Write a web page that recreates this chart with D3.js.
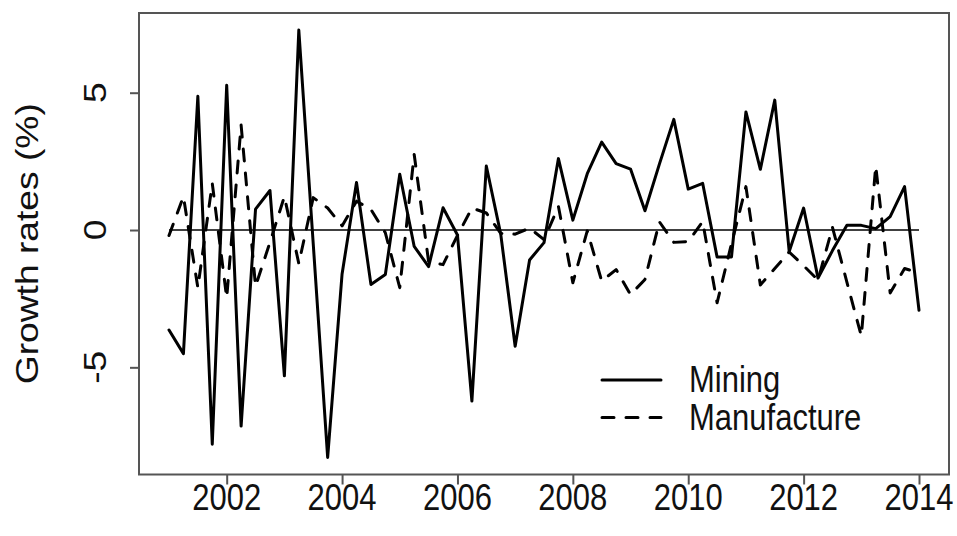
<!DOCTYPE html>
<html>
<head>
<meta charset="utf-8">
<script src="https://cdn.jsdelivr.net/npm/d3@7"></script>
<style>
  html, body { margin: 0; padding: 0; background: #fff; }
  svg { display: block; }
  text { font-family: "Liberation Sans", Arial, Helvetica, sans-serif; fill: #111; }
</style>
</head>
<body>
<svg id="chart" width="957" height="536"></svg>
<script>
// ---- data (quarterly, 2001Q1 .. 2014Q1) ----
const startYear = 2001;
const periodsPerYear = 4;
const mining = [
  -3.64, -4.50, 4.87, -7.80, 5.27, -7.14, 0.76, 1.44, -5.31, 7.28,
  -0.50, -8.28, -1.60, 1.73, -1.98, -1.62, 2.03, -0.60, -1.33, 0.81,
  -0.18, -6.23, 2.33, -0.15, -4.23, -1.09, -0.46, 2.60, 0.36, 2.05,
  3.20, 2.42, 2.22, 0.70, 2.40, 4.03, 1.49, 1.70, -0.98, -0.98,
  4.30, 2.21, 4.73, -0.78, 0.80, -1.75, -0.75, 0.17, 0.17, 0.05,
  0.49, 1.58, -2.92
];
const manufacture = [
  -0.20, 1.22, -2.10, 1.70, -2.47, 3.82, -2.05, -0.45, 1.22, -1.22,
  1.18, 0.80, 0.15, 1.05, 0.75, -0.10, -2.10, 2.75, -1.15, -1.26,
  -0.20, 0.80, 0.62, -0.12, -0.15, 0.07, -0.35, 0.86, -1.92, -0.03,
  -1.86, -1.44, -2.35, -1.80, 0.30, -0.45, -0.42, 0.31, -2.65, -0.50,
  1.58, -2.00, -1.40, -0.80, -1.30, -1.82, 0.10, -1.90, -3.86, 2.33,
  -2.29, -1.40, -1.56
];
const xTicks = [2002, 2004, 2006, 2008, 2010, 2012, 2014];
const yTicks = [-5, 0, 5];
const yTickLabels = ["-5", "0", "5"];
const legendLabels = ["Mining", "Manufacture"];
const yTitle = "Growth rates (%)";

// ---- layout ----
const svg = d3.select("#chart");
const plot = { left: 139, right: 949, top: 13, bottom: 474.5 };
const fontSize = 31;
const vStretch = 1.2;

const times = mining.map((_, i) => startYear + i / periodsPerYear);
const tExt = d3.extent(times);
const tPad = (tExt[1] - tExt[0]) * 0.04;
const allVals = mining.concat(manufacture);
const vExt = d3.extent(allVals);
const vPad = (vExt[1] - vExt[0]) * 0.04;

const x = d3.scaleLinear().domain([tExt[0] - tPad, tExt[1] + tPad]).range([plot.left, plot.right]);
const y = d3.scaleLinear().domain([vExt[0] - vPad, vExt[1] + vPad]).range([plot.bottom, plot.top]);

// zero reference line (spans the series time range)
svg.append("line")
  .attr("x1", x(tExt[0])).attr("x2", x(tExt[1]))
  .attr("y1", y(0)).attr("y2", y(0))
  .attr("stroke", "#000").attr("stroke-width", 1.3);

const line = d3.line().x((d, i) => x(times[i])).y(d => y(d));

svg.append("path").datum(mining)
  .attr("d", line)
  .attr("fill", "none").attr("stroke", "#000").attr("stroke-width", 3)
  .attr("stroke-linejoin", "round").attr("stroke-linecap", "round");

svg.append("path").datum(manufacture)
  .attr("d", line)
  .attr("fill", "none").attr("stroke", "#000").attr("stroke-width", 3)
  .attr("stroke-dasharray", "12,12")
  .attr("stroke-linejoin", "round").attr("stroke-linecap", "round");

// box
svg.append("rect")
  .attr("x", plot.left).attr("y", plot.top)
  .attr("width", plot.right - plot.left).attr("height", plot.bottom - plot.top)
  .attr("fill", "none").attr("stroke", "#555").attr("stroke-width", 2);

// x axis ticks
const xAxis = d3.axisBottom(x).tickValues(xTicks).tickSize(10).tickFormat("");
const gx = svg.append("g").attr("transform", `translate(0,${plot.bottom})`).call(xAxis);
gx.select(".domain").remove();
gx.selectAll(".tick line").attr("stroke", "#555").attr("stroke-width", 2);

// x tick labels (slightly stretched vertically like the reference)
svg.selectAll(".xlab").data(xTicks).enter().append("text")
  .attr("class", "xlab")
  .attr("transform", d => `translate(${x(d)},510) scale(1,${vStretch})`)
  .attr("text-anchor", "middle")
  .attr("font-size", fontSize)
  .text(d => d3.format("d")(d));

// y axis ticks
const yAxis = d3.axisLeft(y).tickValues(yTicks).tickSize(9).tickFormat("");
const gy = svg.append("g").attr("transform", `translate(${plot.left},0)`).call(yAxis);
gy.select(".domain").remove();
gy.selectAll(".tick line").attr("stroke", "#555").attr("stroke-width", 2);

// rotated y tick labels
svg.selectAll(".ylab").data(yTicks).enter().append("text")
  .attr("class", "ylab")
  .attr("transform", d => `translate(106,${y(d)}) scale(1,${vStretch}) rotate(-90)`)
  .attr("text-anchor", "middle")
  .attr("font-size", fontSize)
  .text((d, i) => yTickLabels[i]);

// y title
svg.append("text")
  .attr("transform", `translate(38,${(plot.top + plot.bottom) / 2}) scale(1,${vStretch}) rotate(-90)`)
  .attr("text-anchor", "middle")
  .attr("font-size", fontSize)
  .text(yTitle);

// legend
const legend = { x0: 602, x1: 661, tx: 689, y0: 380, dy: 37.5 };
const styles = [null, "12,12"];
legendLabels.forEach((lab, i) => {
  const ly = legend.y0 + i * legend.dy;
  svg.append("line")
    .attr("x1", legend.x0).attr("x2", legend.x1)
    .attr("y1", ly).attr("y2", ly)
    .attr("stroke", "#000").attr("stroke-width", 3)
    .attr("stroke-linecap", "round")
    .attr("stroke-dasharray", styles[i]);
  svg.append("text")
    .attr("transform", `translate(${legend.tx},${ly + 12}) scale(1,${vStretch})`)
    .attr("font-size", fontSize)
    .text(lab);
});
</script>
</body>
</html>
